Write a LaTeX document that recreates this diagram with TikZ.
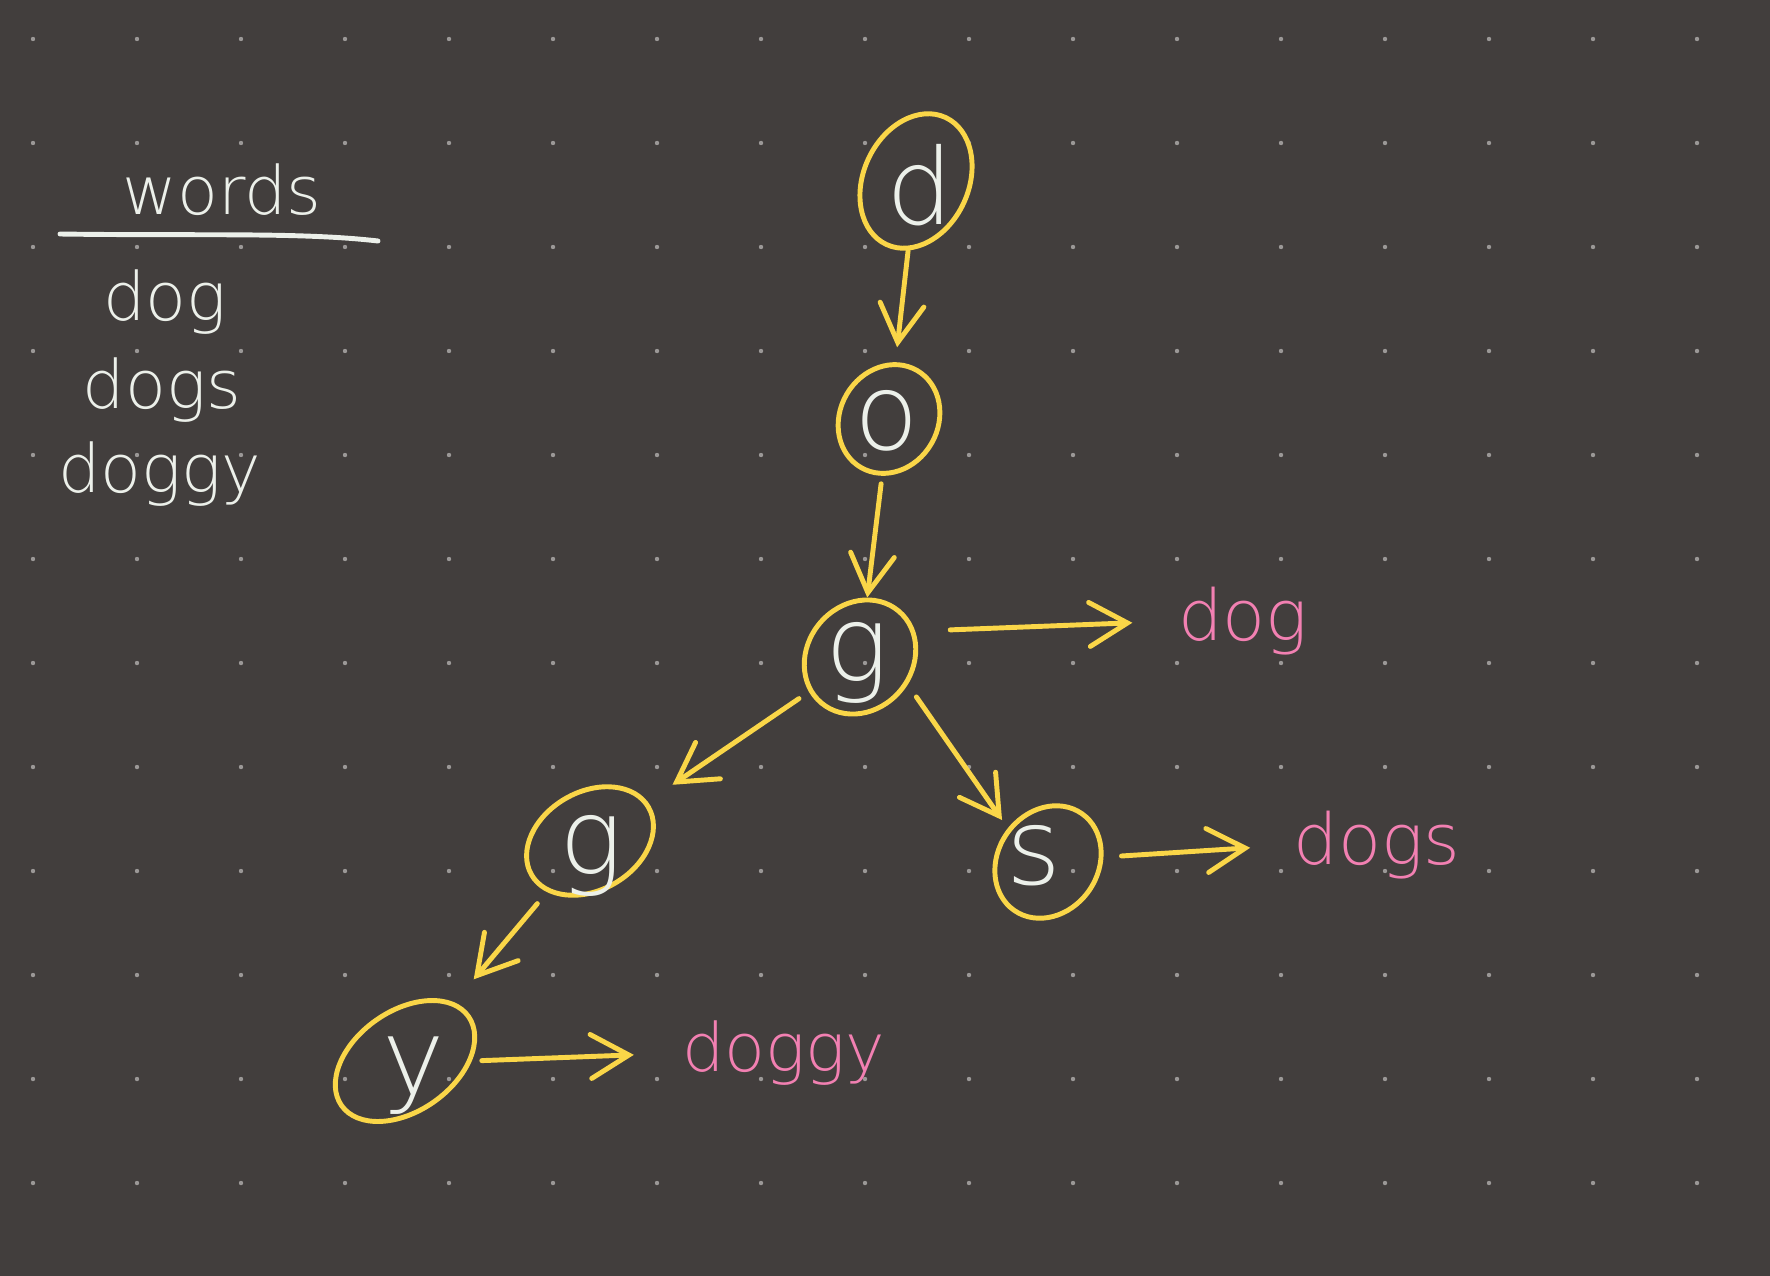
\documentclass[tikz,border=0pt]{standalone}
\usepackage{fontspec}
\setmainfont{DejaVu Sans ExtraLight}
\usetikzlibrary{arrows.meta,shapes.geometric}
\definecolor{bg}{RGB}{66,62,61}
\definecolor{dotc}{RGB}{155,152,151}
\definecolor{ylw}{RGB}{250,214,72}
\definecolor{pnk}{RGB}{242,128,178}
\definecolor{chalk}{RGB}{236,240,234}
\begin{document}
\begin{tikzpicture}[x=0.01cm,y=-0.01cm,
  trienode/.style={ellipse, draw=ylw, line width=1.4pt, inner sep=0pt},
  letter/.style={text=chalk, inner sep=0pt, font=\fontsize{30}{30}\selectfont},
  edge/.style={draw=ylw, line width=1.4pt, line cap=round, -{Straight Barb[length=0.38cm,width=0.44cm,line cap=round]}},
  wordlbl/.style={text=pnk, inner sep=0pt},
  listtxt/.style={text=chalk, inner sep=0pt, font=\fontsize{19}{19}\selectfont}]
\fill[bg] (0,0) rectangle (1770,1276);
\useasboundingbox (0,0) rectangle (1770,1276);
\foreach \i in {0,...,16} \foreach \j in {0,...,11}
  \fill[dotc] ({33+104*\i},{39+104*\j}) circle (0.022cm);

% word list
\node[listtxt] (hdr) at (222,190) {words};
\coordinate (ul1) at (60,234);
\coordinate (ul2) at (378,241);
\draw[chalk, line width=1.4pt, line cap=round] (ul1) .. controls (200,236) and (300,232) .. (ul2);
\node[listtxt] (w1) at (165,302) {dog};
\node[listtxt] (w2) at (162,390) {dogs};
\node[listtxt] (w3) at (160,474) {doggy};

% trie nodes
\node[trienode, minimum width=1.40cm, minimum height=1.05cm, rotate=65] (d) at (916,181) {};
\node[trienode, minimum width=1.12cm, minimum height=0.98cm, rotate=60] (o) at (889,419) {};
\node[trienode, minimum width=1.20cm, minimum height=1.05cm, rotate=50] (g) at (860,657) {};
\node[trienode, minimum width=1.35cm, minimum height=0.98cm, rotate=30] (g2) at (590,841) {};
\node[trienode, minimum width=1.18cm, minimum height=1.00cm, rotate=55] (s) at (1048,862) {};
\node[trienode, minimum width=1.55cm, minimum height=1.00cm, rotate=35] (y) at (405,1061) {};

\node[letter] (dl) at (920,185) {d};
\node[letter] (ol) at (887,421) {o};
\node[letter] (gl) at (857,663) {g};
\node[letter] (g2l) at (591,856) {g};
\node[letter] (sl) at (1034,856) {s};
\node[letter] (yl) at (414,1076) {y};

% word labels
\node[wordlbl, font=\fontsize{20}{20}\selectfont] (wdog) at (1243,621) {dog};
\node[wordlbl, font=\fontsize{20}{20}\selectfont] (wdogs) at (1377,845) {dogs};
\node[wordlbl, font=\fontsize{19}{19}\selectfont] (wdoggy) at (784,1053) {doggy};

% edges
\draw[edge, shorten >=0.15cm] (d) -- (o);
\draw[edge, shorten <=0.08cm] (o) -- (g);
\draw[edge, shorten <=0.12cm, shorten >=0.3cm] (g) -- (g2);
\draw[edge, shorten <=0.15cm, shorten >=0.1cm] (g.-80) -- (s.85);
\draw[edge, shorten <=0.15cm, shorten >=0.3cm] (g2) -- (y);
\draw[edge, shorten <=0.35cm, shorten >=0.45cm] (g.-25) -- (wdog.west);
\draw[edge, shorten <=0.18cm, shorten >=0.43cm] (s.-50) -- (wdogs.west);
\draw[edge, shorten <=0.1cm, shorten >=0.48cm] (y.-35) -- (wdoggy.west);
\end{tikzpicture}
\end{document}
